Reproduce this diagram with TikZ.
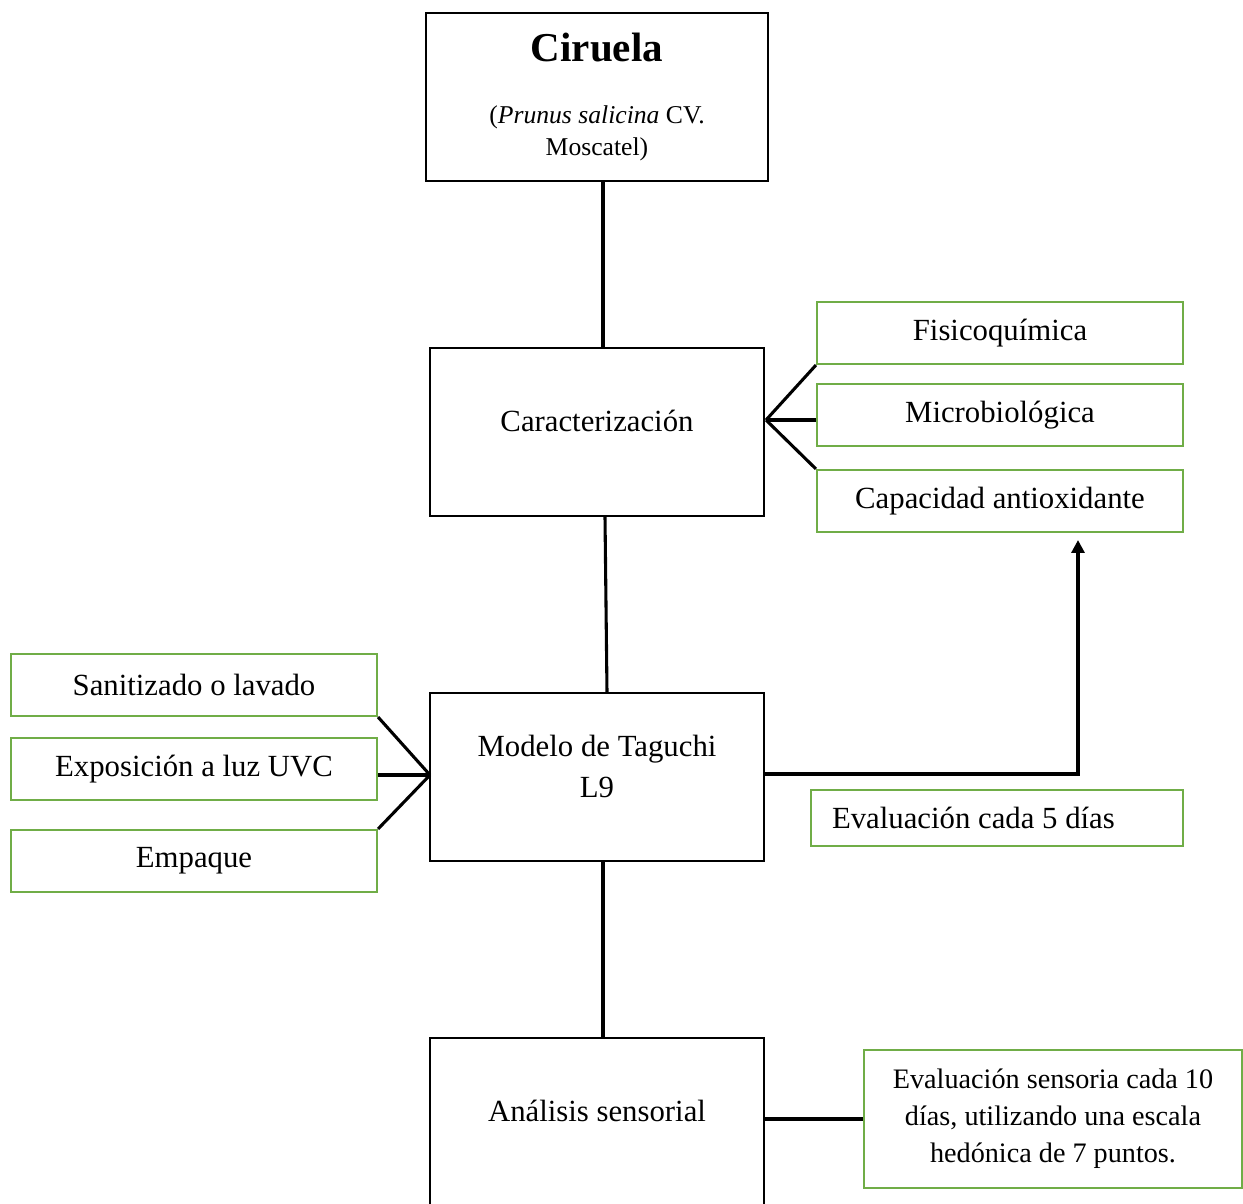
\documentclass[tikz,border=0pt]{standalone}
\usepackage{fontspec}
\setmainfont{Liberation Serif}
\usetikzlibrary{arrows.meta}
\definecolor{boxgreen}{RGB}{112,173,71}
\newdimen\px \px=0.39pt
\tikzset{
  mainbox/.style={draw=black, line width=0.8pt, minimum width=334\px, minimum height=168\px, align=center, font=\fontsize{12}{16}\selectfont},
  liftbox/.style={text depth=#1},
  subbox/.style={draw=boxgreen, line width=0.8pt, minimum width=366\px, minimum height=62\px, font=\fontsize{12}{14}\selectfont},
  link/.style={line width=1.2pt}
}
\begin{document}
\begin{tikzpicture}[x=0.39pt, y=-0.39pt]
    \useasboundingbox (0,0) rectangle (1243,1203);
    \clip (0,0) rectangle (1243,1203);

    % Main column
    \node[mainbox, minimum width=342\px, font=\fontsize{10}{12.5}\selectfont] (cir) at (597,97)
        {{\fontsize{16}{20}\selectfont\bfseries Ciruela}\\[12pt]
         (\textit{Prunus salicina} CV.\\ Moscatel)};
    \node[mainbox, liftbox=9pt] (car) at (597,432) {Caracterización};
    \node[mainbox, liftbox=8pt] (tag) at (597,777) {Modelo de Taguchi\\L9};
    \node[mainbox, liftbox=9pt] (sen) at (597,1122) {Análisis sensorial};

    % Analysis types
    \node[subbox] (fis) at (1000,333) {Fisicoquímica};
    \node[subbox] (mic) at (1000,415) {Microbiológica};
    \node[subbox] (cap) at (1000,501) {Capacidad antioxidante};

    % Treatments
    \node[subbox] (san) at (194,685) {Sanitizado o lavado};
    \node[subbox] (uvc) at (194,769) {Exposición a luz UVC};
    \node[subbox] (emp) at (194,861) {Empaque};

    % Evaluation notes
    \node[subbox, minimum width=372\px, minimum height=56\px, inner xsep=21\px,
          text width=330\px, align=flush left] (cinco) at (997,818) {Evaluación cada 5 días};
    \node[subbox, minimum width=378\px, minimum height=138\px, align=center,
          font=\fontsize{11}{14.4}\selectfont] (diez) at (1053,1119)
        {Evaluación sensoria cada 10\\días, utilizando una escala\\hedónica de 7 puntos.};

    % Connectors
    \draw[link] ([xshift=6\px]cir.south) -- ([xshift=6\px]car.north);
    \draw[link] ([xshift=8\px]car.south) -- ([xshift=10\px]tag.north);
    \draw[link] ([xshift=6\px]tag.south) -- ([xshift=6\px]sen.north);
    \coordinate (carfan) at (766,420);
    \draw[link] (carfan) -- (fis.south west);
    \draw[link] (carfan) -- (mic.west |- carfan);
    \draw[link] (carfan) -- (cap.north west);
    \coordinate (tagfan) at (430,775);
    \draw[link] (tagfan) -- (san.south east);
    \draw[link] (tagfan) -- (uvc.east |- tagfan);
    \draw[link] (tagfan) -- (emp.north east);
    \coordinate (up) at (1078,540);
    \draw[link, -{Triangle[length=5pt, width=5pt]}] (tag.east |- 0,774) -| (up);
    \draw[link] (sen.east |- diez.west) -- (diez.west);
\end{tikzpicture}
\end{document}
